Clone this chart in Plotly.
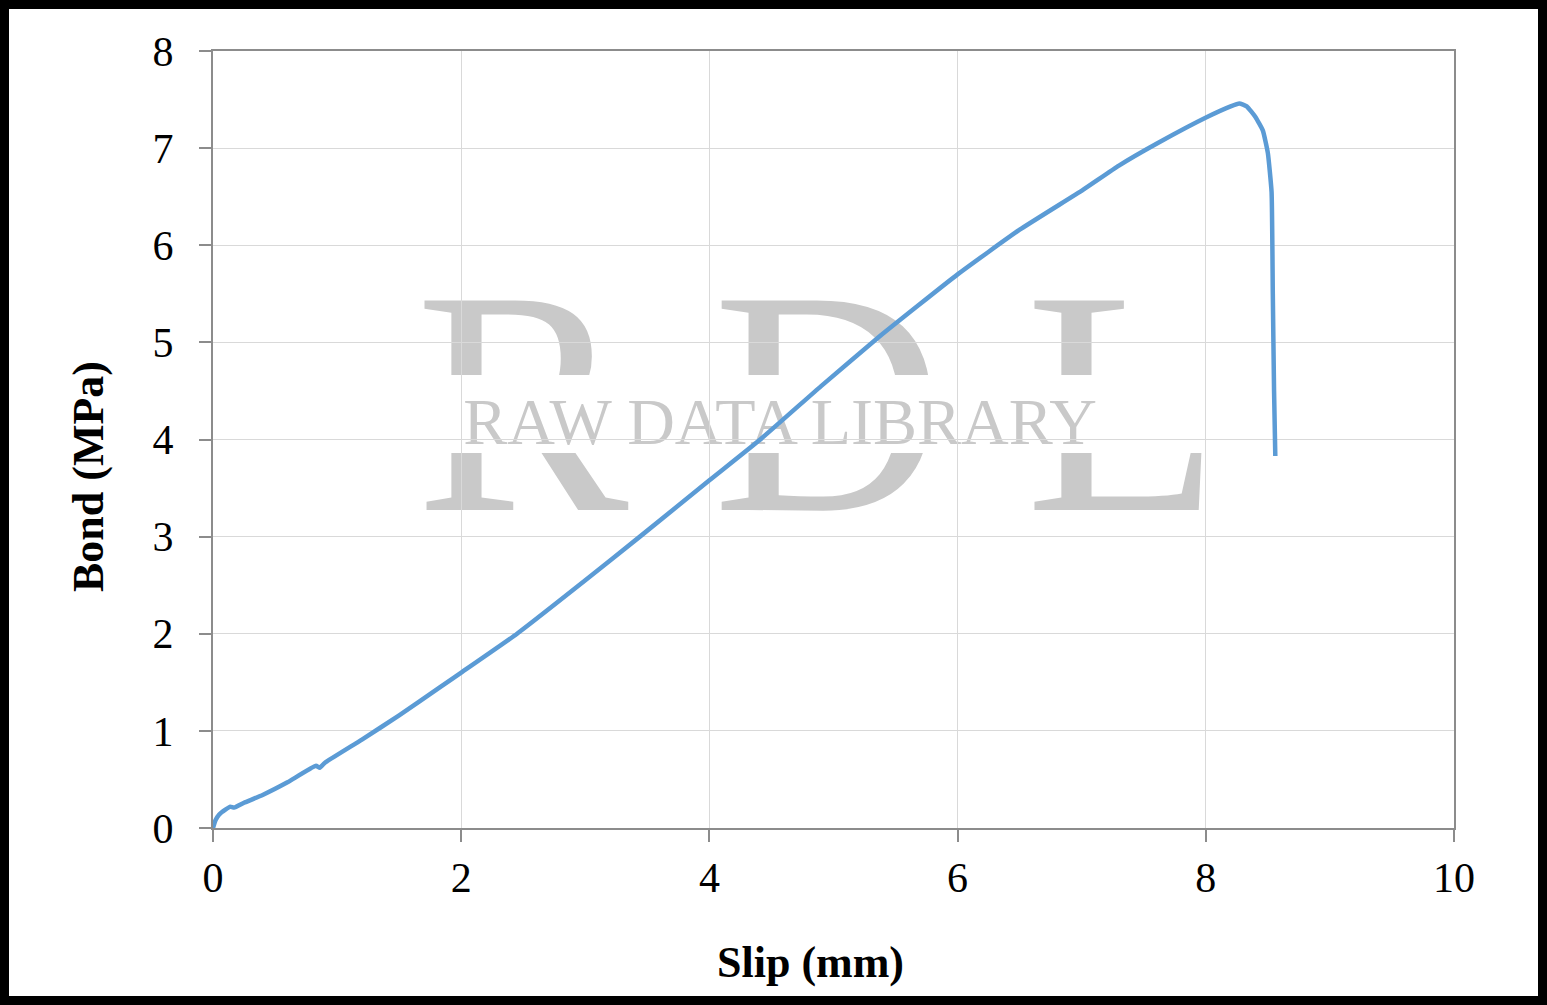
import plotly.graph_objs as go

# slip vs bond
slip_mm = [0, 0.02, 0.05, 0.1, 0.14, 0.17, 0.25, 0.4, 0.6, 0.83, 0.86, 0.9,
           1.2, 1.5, 1.83, 2.0, 2.45, 3.0, 3.44, 4.0, 4.41, 4.9, 5.37, 6.0, 6.5,
           7.01, 7.3, 7.61, 8.01, 8.2, 8.27, 8.33, 8.4, 8.46, 8.5, 8.53,
           8.54, 8.55, 8.56]
bond_mpa = [0, 0.08, 0.14, 0.19, 0.22, 0.21, 0.26, 0.34, 0.47, 0.64, 0.62, 0.67,
            0.91, 1.16, 1.45, 1.6, 2.0, 2.55, 3.0, 3.58, 4.0, 4.55, 5.06, 5.7, 6.16,
            6.57, 6.82, 7.05, 7.32, 7.43, 7.46, 7.43, 7.32, 7.18, 6.95, 6.55,
            5.5, 4.5, 3.83]

x_ticks = [0, 2, 4, 6, 8, 10]
y_ticks = [0, 1, 2, 3, 4, 5, 6, 7, 8]

FONT = "Liberation Serif"
GRID = "#d9d9d9"
AXIS = "#8c8c8c"
WM = "#c9c9c9"

W, H = 1547, 1005
L, R, T, B = 213, 93, 51, 177
pw, ph = W - L - R, H - T - B


def px(x):
    return (x - L) / pw


def py(y):
    return (H - B - y) / ph


axis_style = dict(showgrid=True, gridcolor=GRID, gridwidth=1.3,
                  showline=True, linecolor=AXIS, linewidth=2, mirror=True,
                  ticks="outside", ticklen=12, tickcolor=AXIS, tickwidth=2,
                  tickfont=dict(size=42, family=FONT, color="black"), zeroline=False)

fig = go.Figure(layout=go.Layout(
    width=W, height=H,
    margin=dict(l=L, r=R, t=T, b=B),
    paper_bgcolor="white", plot_bgcolor="white",
    showlegend=False,
    font=dict(family=FONT, color="black"),
    xaxis=dict(range=[0, 10], tickvals=x_ticks, **axis_style),
    yaxis=dict(range=[0, 8], tickvals=y_ticks, ticklabelstandoff=17, **axis_style),
))

fig.add_trace(go.Scatter(x=slip_mm, y=bond_mpa, mode="lines",
                         line=dict(color="#5b9bd5", width=4.5, shape="spline", smoothing=0.4)))


# watermark as shape labels on the bottom layer (under grid and curve)
def wm_label(text, cx, cy, size, w, h, fill=None):
    fig.add_shape(type="rect", xref="paper", yref="paper", layer="below",
                  x0=px(cx - w / 2), x1=px(cx + w / 2), y0=py(cy + h / 2), y1=py(cy - h / 2),
                  line=dict(width=0), fillcolor=fill or "rgba(0,0,0,0)",
                  label=dict(text=text, textposition="middle center", padding=0,
                             font=dict(family=FONT, size=size, color=WM)))


for letter, cx in zip(["R", "D", "L"], [522, 828, 1123]):
    wm_label(letter, cx, 367, 320, 260, 300)
wm_label("", 820, 414, 10, 800, 78, fill="white")
wm_label("RAW DATA LIBRARY", 780, 414, 66, 700, 60)

fig.add_annotation(text="<b>Slip (mm)</b>", xref="paper", yref="paper",
                   x=px(810), y=py(962), xanchor="center", yanchor="middle",
                   showarrow=False, font=dict(size=44, family=FONT))
fig.add_annotation(text="<b>Bond (MPa)</b>", xref="paper", yref="paper",
                   x=px(88), y=py(477), xanchor="center", yanchor="middle",
                   showarrow=False, textangle=-90, font=dict(size=44, family=FONT))

# black frame round the whole picture
fig.add_shape(type="rect", xref="paper", yref="paper",
              x0=px(4.5), x1=px(W - 4.5), y0=py(H - 4.5), y1=py(4.5),
              line=dict(color="black", width=9), layer="above")

fig.write_html("out.html", config={"displayModeBar": False},
               post_script="document.body.style.margin='0';")
